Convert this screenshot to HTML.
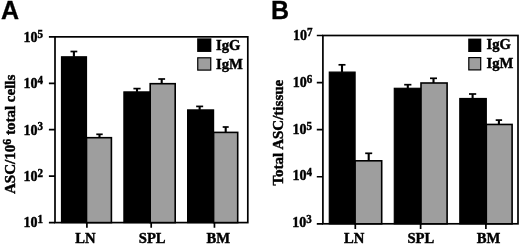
<!DOCTYPE html>
<html>
<head>
<meta charset="utf-8">
<title>Figure</title>
<style>
html,body{margin:0;padding:0;background:#fff;}
body{width:520px;height:245px;overflow:hidden;}
svg{display:block;}
text{font-family:"Liberation Serif","Times New Roman",serif;font-weight:bold;fill:#000;}
.pl{font-family:"Liberation Sans",Arial,sans-serif;font-weight:bold;font-size:25px;stroke:#000;stroke-width:0.3px;}
.t{font-size:15.5px;stroke:#000;stroke-width:0.45px;}
.s{font-size:12.2px;}
</style>
</head>
<body>
<svg width="520" height="245" viewBox="0 0 520 245">
<rect x="0" y="0" width="520" height="245" fill="#fff"/>
<!-- Panel A -->
<text class="pl" x="1" y="19.2">A</text>
<g stroke="#000" stroke-width="1.7" fill="none">
<rect x="55.0" y="36.85" width="192.80" height="185.75"/>
<path d="M48.9 36.85H55.0M48.9 83.29H55.0M48.9 129.72H55.0M48.9 176.16H55.0M48.9 222.60H55.0M86.9 222.6V227.7M151.2 222.6V227.7M214.45 222.6V227.7"/>
</g>
<g stroke="#000" stroke-width="1.6">
<rect x="61.5" y="56.8" width="25.00" height="165.80" fill="#000" stroke-width="1.2"/>
<rect x="86.5" y="137.7" width="24.90" height="84.90" fill="#9e9e9e"/>
<rect x="123.9" y="91.9" width="26.30" height="130.70" fill="#000" stroke-width="1.2"/>
<rect x="150.2" y="83.7" width="25.00" height="138.90" fill="#9e9e9e"/>
<rect x="187.6" y="109.9" width="26.00" height="112.70" fill="#000" stroke-width="1.2"/>
<rect x="213.6" y="132.4" width="24.10" height="90.20" fill="#9e9e9e"/>
</g>
<g stroke="#000" stroke-width="1.7" fill="none">
<path d="M73.9 56.8V51.5" stroke-width="2.1"/><path d="M70.50 51.5H77.30"/>
<path d="M99.5 137.7V134.3" stroke-width="2.1"/><path d="M96.30 134.3H102.70"/>
<path d="M137.0 91.9V88.6" stroke-width="2.1"/><path d="M133.40 88.6H140.60"/>
<path d="M161.7 83.7V79.0" stroke-width="2.1"/><path d="M158.30 79.0H165.10"/>
<path d="M199.65 109.9V106.4" stroke-width="2.1"/><path d="M196.15 106.4H203.15"/>
<path d="M225.7 132.4V127.0" stroke-width="2.1"/><path d="M222.70 127.0H228.70"/>
</g>
<rect x="197.15" y="38.35" width="14.20" height="13.60" fill="#000"/>
<rect x="197.75" y="57.800000000000004" width="13.00" height="12.30" fill="#9e9e9e" stroke="#000" stroke-width="1.2"/>
<text class="t" transform="translate(216.0,49.6) scale(0.945,1)" text-anchor="start">IgG</text>
<text class="t" transform="translate(216.0,68.7) scale(0.945,1)" text-anchor="start">IgM</text>
<text class="t" transform="translate(23.6,41.95) scale(0.905,1)">10<tspan class="s" dy="-4.1">5</tspan></text>
<text class="t" transform="translate(23.6,88.26) scale(0.905,1)">10<tspan class="s" dy="-4.1">4</tspan></text>
<text class="t" transform="translate(23.6,134.57) scale(0.905,1)">10<tspan class="s" dy="-4.1">3</tspan></text>
<text class="t" transform="translate(23.6,180.88) scale(0.905,1)">10<tspan class="s" dy="-4.1">2</tspan></text>
<text class="t" transform="translate(23.6,227.19) scale(0.905,1)">10<tspan class="s" dy="-4.1">1</tspan></text>
<text class="t" transform="translate(85.5,242.9) scale(0.945,1)" text-anchor="middle">LN</text>
<text class="t" transform="translate(152.2,242.9) scale(0.945,1)" text-anchor="middle">SPL</text>
<text class="t" transform="translate(218.3,242.9) scale(0.945,1)" text-anchor="middle">BM</text>
<text class="t" transform="translate(15.2,194.0) rotate(-90) scale(0.97,1)">ASC/10<tspan class="s" dy="-4.1">6</tspan><tspan dy="4.1"> total cells</tspan></text>
<!-- Panel B -->
<text class="pl" x="271" y="19.2">B</text>
<g stroke="#000" stroke-width="1.7" fill="none">
<rect x="322.9" y="35.5" width="195.10" height="188.30"/>
<path d="M316.8 35.50H322.9M316.8 82.58H322.9M316.8 129.65H322.9M316.8 176.73H322.9M316.8 223.80H322.9M355.3 223.8V228.9M420.6 223.8V228.9M485.9 223.8V228.9"/>
</g>
<g stroke="#000" stroke-width="1.6">
<rect x="329.3" y="72.1" width="25.80" height="151.70" fill="#000" stroke-width="1.2"/>
<rect x="355.1" y="160.8" width="26.60" height="63.00" fill="#9e9e9e"/>
<rect x="394.3" y="88.3" width="26.70" height="135.50" fill="#000" stroke-width="1.2"/>
<rect x="421.0" y="83.0" width="26.10" height="140.80" fill="#9e9e9e"/>
<rect x="459.8" y="98.5" width="26.50" height="125.30" fill="#000" stroke-width="1.2"/>
<rect x="486.3" y="124.45" width="25.80" height="99.35" fill="#9e9e9e"/>
</g>
<g stroke="#000" stroke-width="1.7" fill="none">
<path d="M342.0 72.1V64.8" stroke-width="2.1"/><path d="M338.50 64.8H345.50"/>
<path d="M368.7 160.8V153.3" stroke-width="2.1"/><path d="M365.20 153.3H372.20"/>
<path d="M407.8 88.3V84.7" stroke-width="2.1"/><path d="M404.20 84.7H411.40"/>
<path d="M433.5 83.0V78.3" stroke-width="2.1"/><path d="M430.00 78.3H437.00"/>
<path d="M472.6 98.5V94.0" stroke-width="2.1"/><path d="M469.00 94.0H476.20"/>
<path d="M498.9 124.45V120.1" stroke-width="2.1"/><path d="M495.70 120.1H502.10"/>
</g>
<rect x="468.2" y="38.6" width="13.10" height="13.40" fill="#000"/>
<rect x="468.8" y="57.6" width="11.90" height="12.30" fill="#9e9e9e" stroke="#000" stroke-width="1.2"/>
<text class="t" transform="translate(486.6,49.3) scale(0.945,1)" text-anchor="start">IgG</text>
<text class="t" transform="translate(486.6,68.4) scale(0.945,1)" text-anchor="start">IgM</text>
<text class="t" transform="translate(293.0,40.1) scale(0.905,1)">10<tspan class="s" dy="-4.1">7</tspan></text>
<text class="t" transform="translate(292.8,86.88) scale(0.905,1)">10<tspan class="s" dy="-4.1">6</tspan></text>
<text class="t" transform="translate(292.6,133.66) scale(0.905,1)">10<tspan class="s" dy="-4.1">5</tspan></text>
<text class="t" transform="translate(292.4,180.44) scale(0.905,1)">10<tspan class="s" dy="-4.1">4</tspan></text>
<text class="t" transform="translate(292.2,227.22) scale(0.905,1)">10<tspan class="s" dy="-4.1">3</tspan></text>
<text class="t" transform="translate(354.2,242.9) scale(0.945,1)" text-anchor="middle">LN</text>
<text class="t" transform="translate(420.8,242.9) scale(0.945,1)" text-anchor="middle">SPL</text>
<text class="t" transform="translate(488.6,242.9) scale(0.945,1)" text-anchor="middle">BM</text>
<text class="t" transform="translate(283.3,185.6) rotate(-90) scale(0.97,1)">Total ASC/tissue</text>
</svg>
</body>
</html>
